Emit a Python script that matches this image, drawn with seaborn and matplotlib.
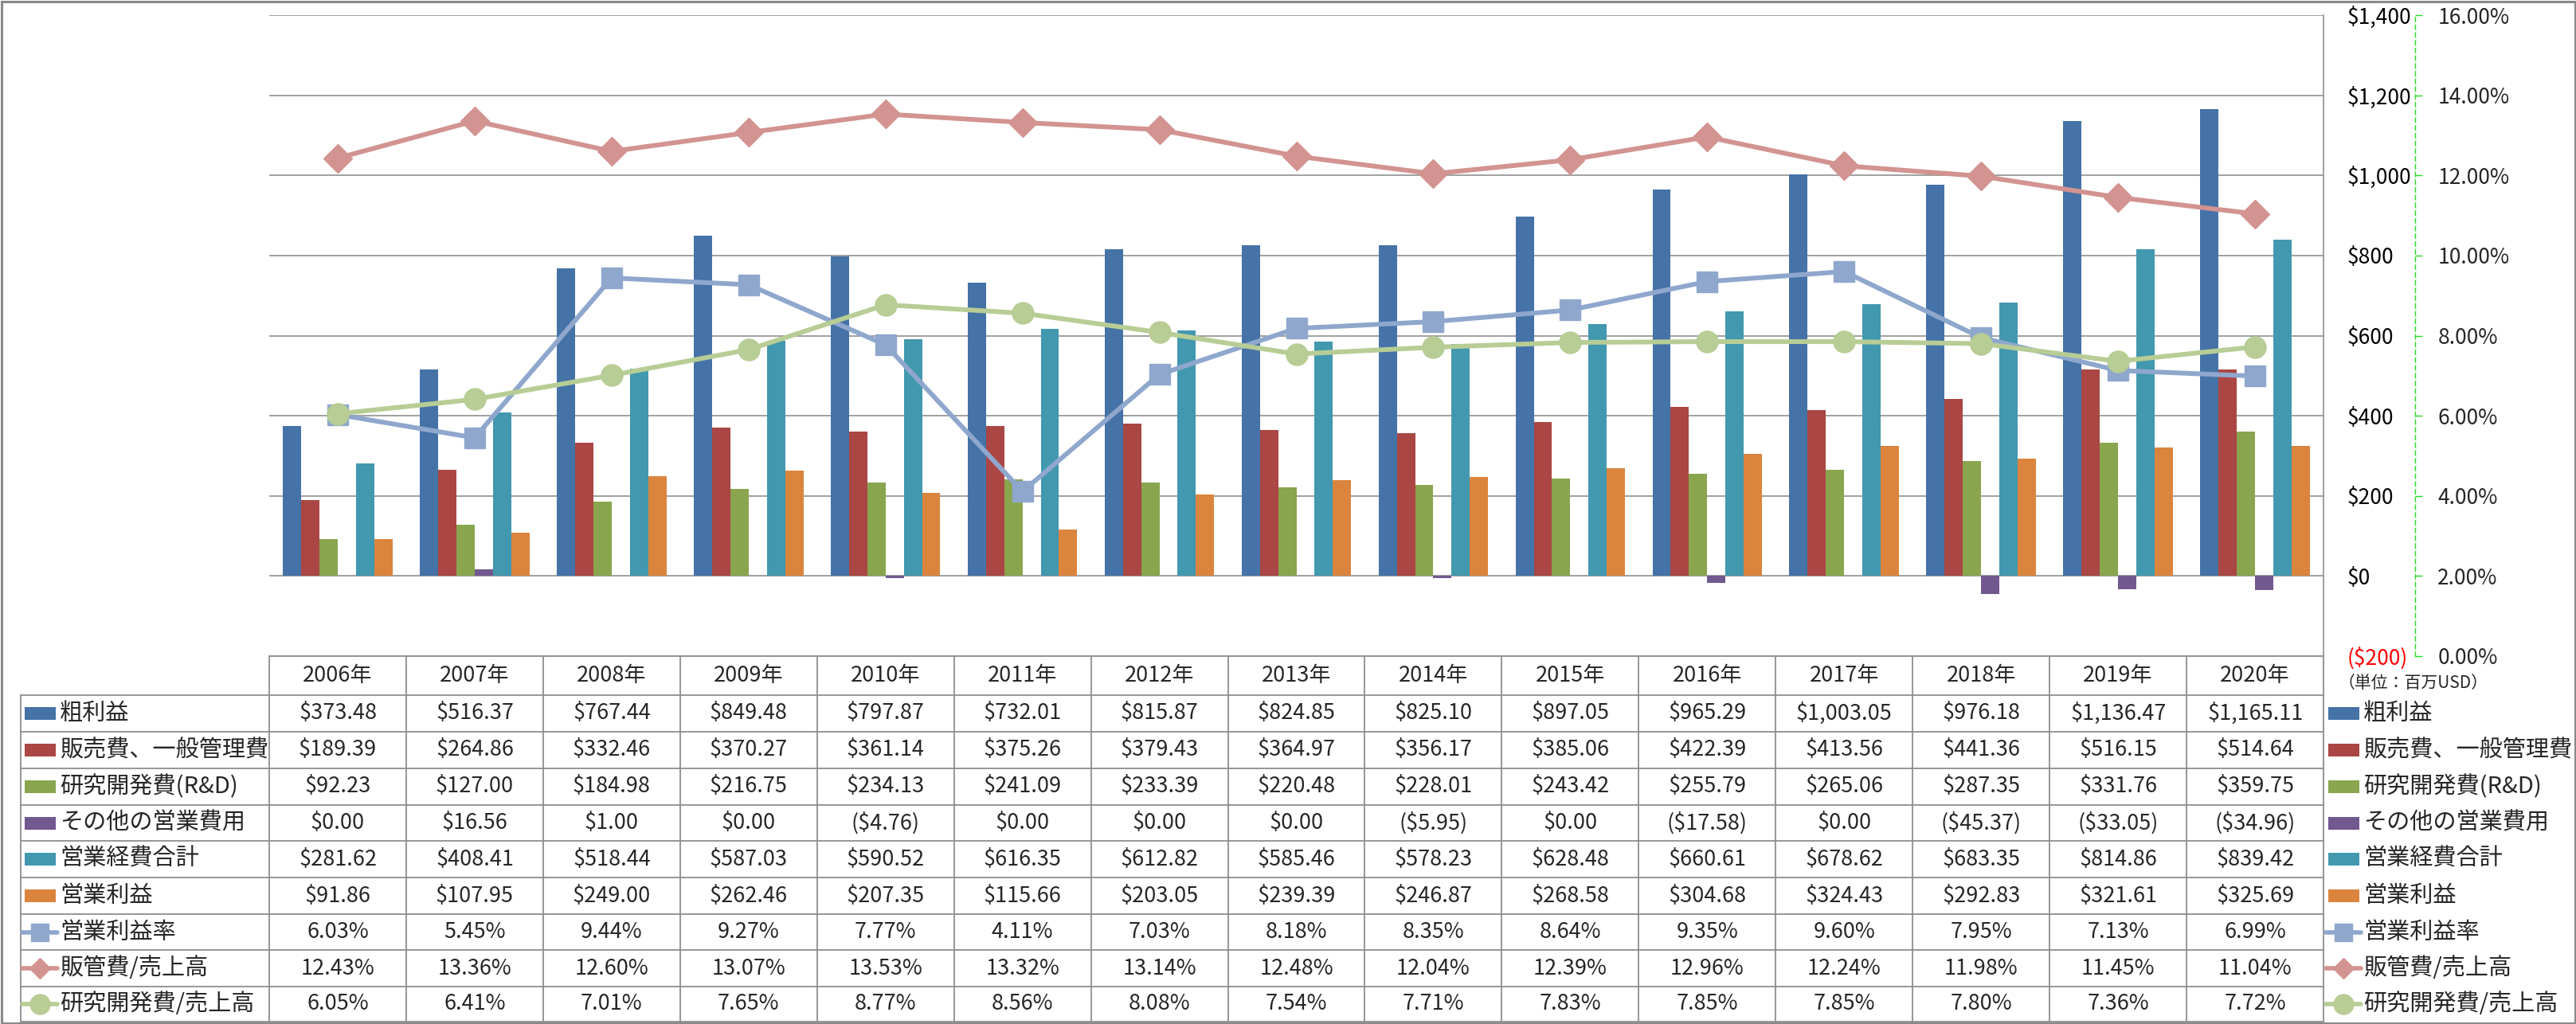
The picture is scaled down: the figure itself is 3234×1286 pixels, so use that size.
import numpy as np
import pandas as pd
import matplotlib
matplotlib.use("Agg")
import matplotlib.pyplot as plt
import matplotlib.transforms as mtransforms
from matplotlib.lines import Line2D
from matplotlib.patches import Rectangle
import seaborn as sns

sns.set_style("white")
plt.rcParams['font.family'] = ['Noto Sans CJK JP', 'DejaVu Sans']

# ---------------- data ----------------
years = ["2006年", "2007年", "2008年", "2009年", "2010年", "2011年", "2012年", "2013年",
         "2014年", "2015年", "2016年", "2017年", "2018年", "2019年", "2020年"]

gross_profit = [373.48, 516.37, 767.44, 849.48, 797.87, 732.01, 815.87, 824.85,
                825.10, 897.05, 965.29, 1003.05, 976.18, 1136.47, 1165.11]
sga = [189.39, 264.86, 332.46, 370.27, 361.14, 375.26, 379.43, 364.97,
       356.17, 385.06, 422.39, 413.56, 441.36, 516.15, 514.64]
rnd = [92.23, 127.00, 184.98, 216.75, 234.13, 241.09, 233.39, 220.48,
       228.01, 243.42, 255.79, 265.06, 287.35, 331.76, 359.75]
other_opex = [0.00, 16.56, 1.00, 0.00, -4.76, 0.00, 0.00, 0.00,
              -5.95, 0.00, -17.58, 0.00, -45.37, -33.05, -34.96]
total_opex = [281.62, 408.41, 518.44, 587.03, 590.52, 616.35, 612.82, 585.46,
              578.23, 628.48, 660.61, 678.62, 683.35, 814.86, 839.42]
op_income = [91.86, 107.95, 249.00, 262.46, 207.35, 115.66, 203.05, 239.39,
             246.87, 268.58, 304.68, 324.43, 292.83, 321.61, 325.69]
op_margin = [6.03, 5.45, 9.44, 9.27, 7.77, 4.11, 7.03, 8.18,
             8.35, 8.64, 9.35, 9.60, 7.95, 7.13, 6.99]
sga_ratio = [12.43, 13.36, 12.60, 13.07, 13.53, 13.32, 13.14, 12.48,
             12.04, 12.39, 12.96, 12.24, 11.98, 11.45, 11.04]
rnd_ratio = [6.05, 6.41, 7.01, 7.65, 8.77, 8.56, 8.08, 7.54,
             7.71, 7.83, 7.85, 7.85, 7.80, 7.36, 7.72]

bar_names = ["粗利益", "販売費、一般管理費", "研究開発費(R&D)", "その他の営業費用", "営業経費合計", "営業利益"]
bar_values = [gross_profit, sga, rnd, other_opex, total_opex, op_income]
bar_colors = ["#4572A7", "#AA4643", "#89A54E", "#71588F", "#4198AF", "#DB843D"]

line_names = ["営業利益率", "販管費/売上高", "研究開発費/売上高"]
line_values = [op_margin, sga_ratio, rnd_ratio]
line_colors = ["#8FA7CD", "#D29391", "#B7CD95"]
line_markers = ["s", "D", "o"]
line_ms = [18.5, 18.5, 19.5]
legend_ms = [16.5, 13.5, 18.0]

left_ticks = [-200, 0, 200, 400, 600, 800, 1000, 1200, 1400]
right_ticks = [0, 2, 4, 6, 8, 10, 12, 14, 16]
unit_label = "（単位：百万USD）"

# ---------------- layout helpers ----------------
W, H = 3234, 1286
fig = plt.figure(figsize=(W / 100, H / 100), dpi=100)


def fx(px):
    return px / W


def fy(py):
    return 1 - py / H


PL, PR, PT, PB = 338, 2917, 19, 824
ax = fig.add_axes([fx(PL), fy(PB), fx(PR - PL), (PB - PT) / H])

# ---------------- bars ----------------
rows = []
for name, vals in zip(bar_names, bar_values):
    for yr, v in zip(years, vals):
        rows.append({"year": yr, "series": name, "value": v})
df = pd.DataFrame(rows)

sns.barplot(data=df, x="year", y="value", hue="series", order=years, hue_order=bar_names,
            palette=bar_colors, saturation=1, width=0.8, errorbar=None, linewidth=0,
            legend=False, ax=ax, zorder=2)

ax.set_xlim(-0.5, len(years) - 0.5)
ax.set_ylim(-200, 1400)
ax.set_xticks([])
ax.set_xlabel("")
ax.set_ylabel("")
ax.yaxis.grid(True, color="#868686", lw=1.1)
ax.set_axisbelow(True)
for s in ["left", "top", "bottom"]:
    ax.spines[s].set_visible(False)
ax.spines["right"].set_color("#868686")
ax.spines["right"].set_linewidth(1.1)

# ---------------- lines on secondary axis ----------------
ax2 = ax.twinx()
ax2.set_zorder(ax.get_zorder() + 1)
ax2.patch.set_visible(False)
xpos = np.arange(len(years))
for vals, c, m, ms in zip(line_values, line_colors, line_markers, line_ms):
    sns.lineplot(x=xpos, y=vals, ax=ax2, color=c, lw=4.3, marker=m, markersize=ms,
                 markeredgecolor=c, markeredgewidth=1.0, sort=False, legend=False)
ax2.set_ylim(0, 16)
ax2.set_xlim(-0.5, len(years) - 0.5)
ax2.set_yticks(right_ticks)
ax2.set_yticklabels([f"{v:.2f}%" for v in right_ticks])
green = "#22DD22"
for s in ["left", "top", "bottom"]:
    ax2.spines[s].set_visible(False)
ax2.spines["right"].set_position(("outward", (3032 - PR) * 0.72))
ax2.spines["right"].set_color(green)
ax2.spines["right"].set_linestyle((0, (4, 3)))
ax2.spines["right"].set_linewidth(1.0)
ax2.tick_params(axis="y", length=6.5, width=1.0, color=green, pad=14, labelsize=19)
for t in ax2.yaxis.get_major_ticks():
    t.tick2line.set_linestyle((0, (2, 2)))
ax2.set_xticks([])
ax2.set_ylabel("")

# primary value axis labels on the right (re-applied after twinx)
ax.yaxis.tick_right()
ax.set_yticks(left_ticks)
ax.set_yticklabels([f"(${abs(v):,})" if v < 0 else f"${v:,}" for v in left_ticks])
ax.tick_params(axis="y", which="both", left=False, right=True, labelleft=False,
               labelright=True, length=0, pad=21, labelsize=19, labelcolor="black")
for lab, v in zip(ax.get_yticklabels(), left_ticks):
    if v < 0:
        lab.set_color("red")

# ---------------- data table ----------------
blend = mtransforms.blended_transform_factory(ax.transData, fig.transFigure)
grid_c = "#8E8E8E"
row_edges = [873, 919, 965, 1011, 1056, 1102, 1148, 1193, 1239, 1283]
header_top = 824
table_left = 26

for k in range(len(years) + 1):
    fig.add_artist(Line2D([k - 0.5, k - 0.5], [fy(header_top), fy(1283)], transform=blend,
                          color=grid_c, lw=1.3))
fig.add_artist(Line2D([fx(table_left)] * 2, [fy(row_edges[0]), fy(1283)],
                      transform=fig.transFigure, color=grid_c, lw=1.3))
fig.add_artist(Line2D([fx(PL), fx(PR)], [fy(header_top)] * 2, transform=fig.transFigure,
                      color=grid_c, lw=1.3))
for e in row_edges:
    fig.add_artist(Line2D([fx(table_left), fx(PR)], [fy(e)] * 2, transform=fig.transFigure,
                          color=grid_c, lw=1.3))

for i, yr in enumerate(years):
    fig.text(i, fy((header_top + row_edges[0]) / 2), yr, transform=blend, ha="center",
             va="center", fontsize=19.5)


def money(v):
    return f"(${abs(v):,.2f})" if v < 0 else f"${v:,.2f}"


all_names = bar_names + line_names
all_rows = [[money(v) for v in vals] for vals in bar_values] + \
           [[f"{v:.2f}%" for v in vals] for vals in line_values]

row_centers = [(row_edges[i] + row_edges[i + 1]) / 2 for i in range(len(row_edges) - 1)]


def draw_key(idx, x0, cy):
    if idx < len(bar_names):
        fig.add_artist(Rectangle((fx(x0 + 3), fy(cy + 8)), fx(39), 16 / H,
                                 transform=fig.transFigure, color=bar_colors[idx], lw=0))
    else:
        j = idx - len(bar_names)
        c = line_colors[j]
        fig.add_artist(Line2D([fx(x0), fx(x0 + 44)], [fy(cy)] * 2, transform=fig.transFigure,
                              color=c, lw=4.0, solid_capstyle="round"))
        fig.add_artist(Line2D([fx(x0 + 22)], [fy(cy)], transform=fig.transFigure, color=c,
                              marker=line_markers[j], markersize=legend_ms[j],
                              markeredgecolor=c, lw=0))


for r, (name, cells) in enumerate(zip(all_names, all_rows)):
    cy = row_centers[r]
    draw_key(r, 28, cy)
    fig.text(fx(75), fy(cy), name, ha="left", va="center", fontsize=21)
    for i, s in enumerate(cells):
        fig.text(i, fy(cy), s, transform=blend, ha="center", va="center", fontsize=19.5)
    draw_key(r, 2920, cy)
    fig.text(fx(2967), fy(cy), name, ha="left", va="center", fontsize=21)

fig.text(fx(2936), fy(858), unit_label, ha="left", va="center", fontsize=15)

fig.add_artist(Rectangle((fx(1.5), 1.5 / H), fx(W - 3), (H - 3) / H, transform=fig.transFigure,
                         fill=False, edgecolor="#898989", lw=2.2))

fig.savefig("out.png", dpi=100)
